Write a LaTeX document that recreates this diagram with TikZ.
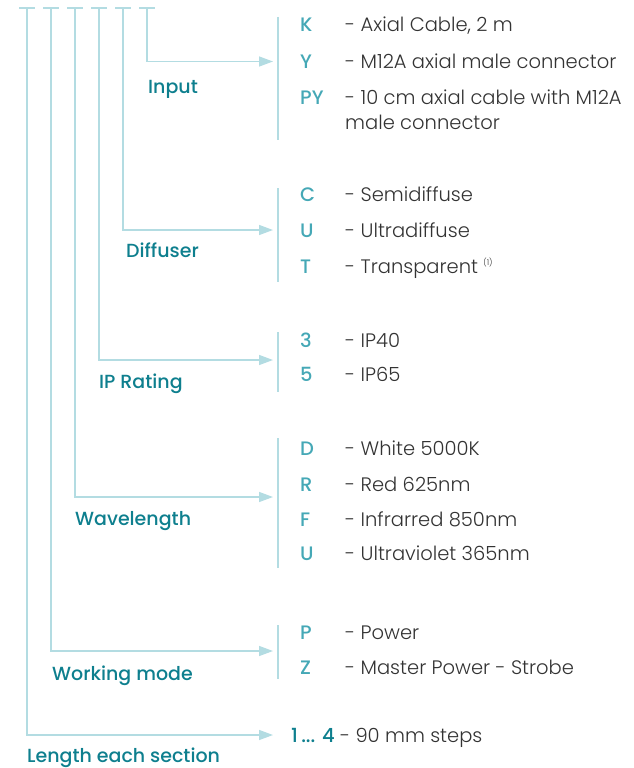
\documentclass[tikz,border=0pt]{standalone}
\usepackage{fontspec}
\setmainfont{Poppins}[UprightFont=* Light, BoldFont=* Medium]
\usetikzlibrary{arrows.meta}
\definecolor{lineblue}{HTML}{B3DCE2}
\definecolor{codeteal}{HTML}{45A8B6}
\definecolor{headteal}{HTML}{0E7F8E}
\definecolor{txtgray}{HTML}{333333}
\begin{document}
\begin{tikzpicture}[x=1pt,y=-1pt,
    wire/.style={draw=lineblue,line width=1.4pt},
    bar/.style={draw=lineblue,line width=1.2pt},
    tip/.style={-{Triangle[length=14pt,width=10pt]}},
    head/.style={anchor=base west,inner sep=0pt,text=headteal,font=\fontsize{19}{22}\selectfont\bfseries},
    code/.style={anchor=base west,inner sep=0pt,text=codeteal,font=\fontsize{19.5}{22}\selectfont\bfseries},
    desc/.style={anchor=base west,inner sep=0pt,text=txtgray,align=left,font=\fontsize{19.5}{25}\selectfont}]
    \useasboundingbox (0,0) rectangle (633,768);
    % top ticks
    \foreach \n/\x in {1/27,2/51,3/75,4/99,5/123,6/147}{
        \coordinate (t\n) at (\x,8);
        \draw[wire] (\x-8,8) -- (\x+8,8);
    }
    \coordinate (e6) at (273,61.5);
    \coordinate (e5) at (273,230);
    \coordinate (e4) at (273,360);
    \coordinate (e3) at (273,497);
    \coordinate (e2) at (273,651);
    \coordinate (e1) at (273,735);
    \draw[wire,tip] (t6) |- (e6);
    \draw[wire,tip] (t5) |- (e5);
    \draw[wire,tip] (t4) |- (e4);
    \draw[wire,tip] (t3) |- (e3);
    \draw[wire,tip] (t2) |- (e2);
    \draw[wire,tip] (t1) |- (e1);
    % group labels
    \node[head] (input) at (148,93) {Input};
    \node[head] (diffuser) at (126,257) {Diffuser};
    \node[head] (iprating) at (99,388) {IP Rating};
    \node[head] (wavelength) at (75,525) {Wavelength};
    \node[head] (mode) at (52,680) {Working mode};
    \node[head] (length) at (27,762) {Length each section};
    % bars
    \draw[bar] (278,17) -- (278,140);
    \draw[bar] (278,188) -- (278,282);
    \draw[bar] (278,332) -- (278,392);
    \draw[bar] (278,438) -- (278,568);
    \draw[bar] (278,625) -- (278,679);
    % input
    \node[code] (k) at (300,32) {K};
    \node[desc] (kd) at (345,32) {- Axial Cable, 2 m};
    \node[code] (y) at (300,69) {Y};
    \node[desc] (yd) at (345,69) {- M12A axial male connector};
    \node[code] (py) at (300,104) {PY};
    \node[desc] (pyd) at (345,129) {- 10 cm axial cable with M12A\\male connector};
    % diffuser
    \node[code] (c) at (300,201) {C};
    \node[desc] (cd) at (345,201) {- Semidiffuse};
    \node[code] (u) at (300,237) {U};
    \node[desc] (ud) at (345,237) {- Ultradiffuse};
    \node[code] (t) at (300,273) {T};
    \node[desc] (td) at (345,273) {- Transparent {\fontsize{8}{8}\selectfont\raisebox{8pt}{(1)}}};
    % ip
    \node[code] (ip3) at (300,347) {3};
    \node[desc] (ip3d) at (345,347) {- IP40};
    \node[code] (ip5) at (300,381) {5};
    \node[desc] (ip5d) at (345,381) {- IP65};
    % wavelength
    \node[code] (d) at (300,455) {D};
    \node[desc] (dd) at (345,455) {- White 5000K};
    \node[code] (r) at (300,491) {R};
    \node[desc] (rd) at (345,491) {- Red 625nm};
    \node[code] (f) at (300,526) {F};
    \node[desc] (fd) at (345,526) {- Infrarred 850nm};
    \node[code] (uv) at (300,560) {U};
    \node[desc] (uvd) at (345,560) {- Ultraviolet 365nm};
    % working mode
    \node[code] (p) at (300,639) {P};
    \node[desc] (pd) at (345,639) {- Power};
    \node[code] (z) at (300,674) {Z};
    \node[desc] (zd) at (345,674) {- Master Power - Strobe};
    % length
    \node[desc] (steps) at (291,742) {\textcolor{headteal}{\bfseries 1\,... 4} - 90 mm steps};
\end{tikzpicture}
\end{document}
